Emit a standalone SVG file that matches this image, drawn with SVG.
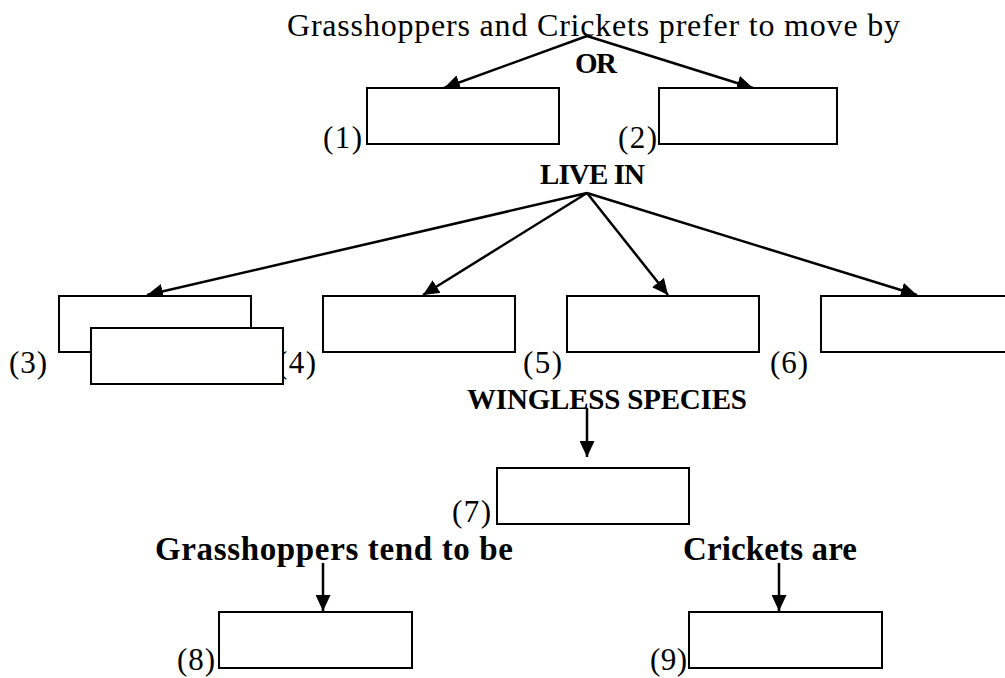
<svg xmlns="http://www.w3.org/2000/svg" width="1005" height="678" viewBox="0 0 1005 678">
<defs>
<style>
text{font-family:"Liberation Serif","DejaVu Serif",serif;fill:#000;}
.t{font-size:32px;}
.b{font-size:33px;font-weight:bold;}
.c{font-size:29px;font-weight:bold;}
.lbl{font-size:31px;}
.box{fill:#fff;stroke:#000;stroke-width:2;}
.con{fill:none;stroke:#000;stroke-width:2.5;marker-end:url(#ah);}
</style>
<marker id="ah" markerUnits="userSpaceOnUse" markerWidth="16" markerHeight="15" refX="16" refY="7.5" orient="auto">
<path d="M0,0 L16,7.5 L0,15 z" fill="#000"/>
</marker>
</defs>
<rect width="1005" height="678" fill="#fff"/>
<g id="headings">
<text class="t" x="287" y="36" textLength="613">Grasshoppers and Crickets prefer to move by</text>
<text class="c" x="575" y="73" textLength="42">OR</text>
<text class="c" x="540" y="184" textLength="105">LIVE IN</text>
<text class="c" x="467" y="409" textLength="280">WINGLESS SPECIES</text>
<text class="b" x="155" y="560" textLength="358">Grasshoppers tend to be</text>
<text class="b" x="683" y="560" textLength="174">Crickets are</text>
</g>
<g id="connectors">
<line class="con" x1="587" y1="36" x2="444" y2="88"/>
<line class="con" x1="587" y1="36" x2="753" y2="88"/>
<line class="con" x1="587" y1="193" x2="147" y2="295"/>
<line class="con" x1="587" y1="193" x2="423" y2="295"/>
<line class="con" x1="587" y1="193" x2="668" y2="295"/>
<line class="con" x1="587" y1="193" x2="917" y2="295"/>
<line class="con" x1="587" y1="408" x2="587" y2="457"/>
<line class="con" x1="323" y1="563" x2="323" y2="611"/>
<line class="con" x1="779" y1="563" x2="779" y2="611"/>
</g>
<g id="node1"><text class="lbl" x="323" y="148" textLength="39">(1)</text><rect class="box" x="367" y="88" width="192" height="56"/></g>
<g id="node2"><text class="lbl" x="618" y="148" textLength="39">(2)</text><rect class="box" x="659" y="88" width="178" height="56"/></g>
<g id="node3"><text class="lbl" x="9" y="373" textLength="38">(3)</text><rect class="box" x="59" y="296" width="192" height="56"/></g>
<g id="node4"><text class="lbl" x="277" y="373" textLength="39">(4)</text><rect class="box" x="91" y="328" width="192" height="56"/></g>
<g id="node5"><text class="lbl" x="523" y="373" textLength="39">(5)</text><rect class="box" x="323" y="296" width="192" height="56"/></g>
<g id="node6"><text class="lbl" x="770" y="373" textLength="38">(6)</text><rect class="box" x="567" y="296" width="192" height="56"/></g>
<g id="node7"><rect class="box" x="821" y="296" width="192" height="56"/></g>
<g id="node8"><text class="lbl" x="452" y="522" textLength="39">(7)</text><rect class="box" x="497" y="468" width="192" height="56"/></g>
<g id="node9"><text class="lbl" x="177" y="670" textLength="38">(8)</text><rect class="box" x="219" y="612" width="193" height="56"/></g>
<g id="node10"><text class="lbl" x="650" y="670" textLength="37">(9)</text><rect class="box" x="689" y="612" width="193" height="56"/></g>
</svg>
